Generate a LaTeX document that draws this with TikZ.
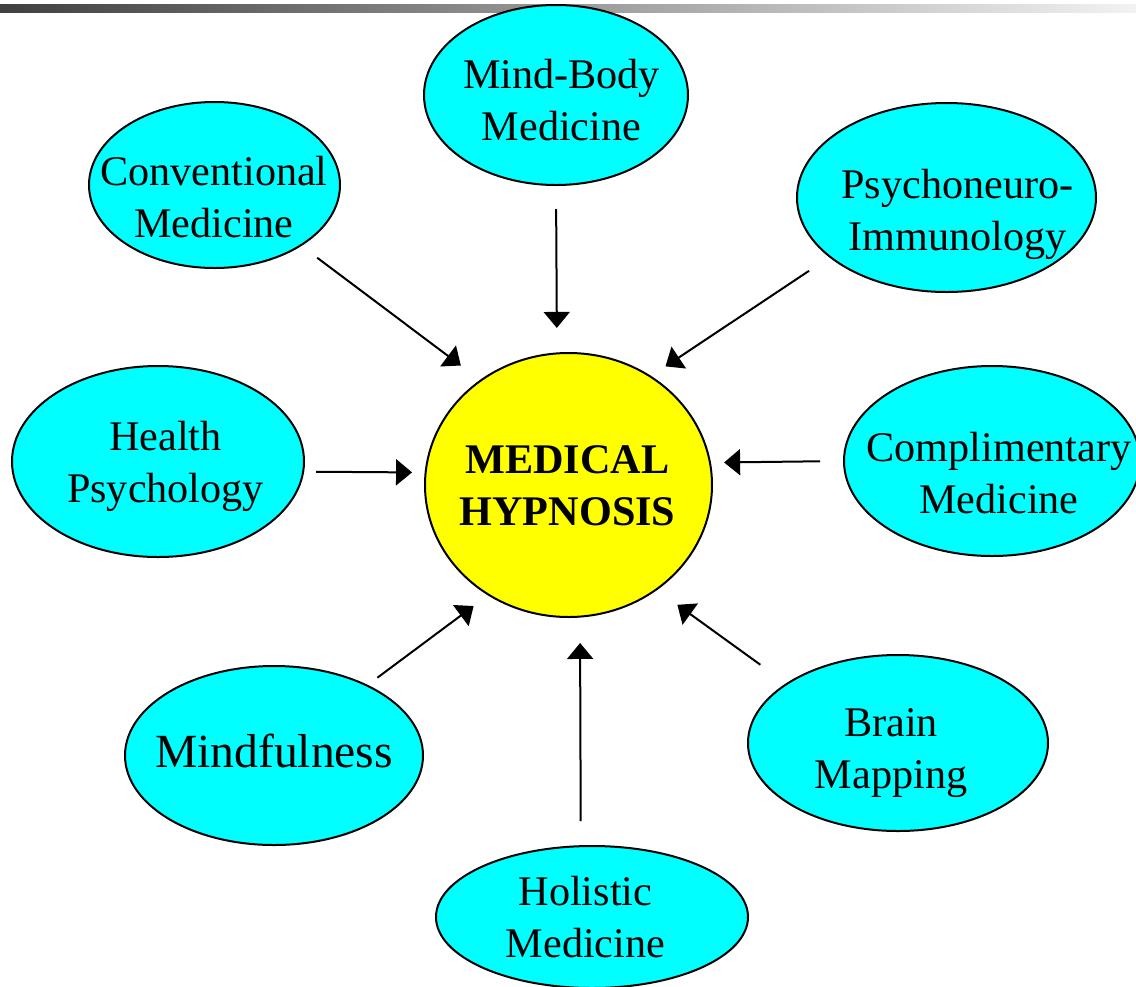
\documentclass[tikz,border=0pt]{standalone}
\usepackage{fontspec}
\setmainfont{Liberation Serif}
\usetikzlibrary{shapes.geometric,arrows.meta}
\definecolor{aqua}{RGB}{0,255,255}
\definecolor{sun}{RGB}{255,255,0}

\begin{document}
\begin{tikzpicture}[x=0.5pt,y=-0.5pt,
    topic/.style={ellipse,draw,line width=1pt,fill=aqua,inner sep=0pt,outer sep=0pt},
    lbl/.style={align=center,anchor=base,inner sep=0pt,font=\fontsize{21.1}{25.8}\selectfont},
    feed/.style={-{Triangle[length=8pt,width=13pt]},line width=1pt}]
  \clip (0,0) rectangle (1136,986);
  \shade[left color=black!75,right color=black!5] (0,4) rectangle (1136,12);

  % ovals
  \node[topic,fill=sun,minimum width=143.5pt,minimum height=132pt] (hyp) at (568.5,485) {};
  \node[topic,minimum width=132pt,minimum height=90pt] (mb) at (556,95) {};
  \node[topic,minimum width=125.5pt,minimum height=83pt] (conv) at (214.5,185) {};
  \node[topic,minimum width=149.5pt,minimum height=94.5pt] (psy) at (946.5,197.5) {};
  \node[topic,minimum width=146pt,minimum height=95.5pt] (hp) at (158,461.5) {};
  \node[topic,minimum width=148pt,minimum height=95pt] (comp) at (992,461) {};
  \node[topic,minimum width=149pt,minimum height=89.5pt] (mind) at (274,755.5) {};
  \node[topic,minimum width=150pt,minimum height=88pt] (brain) at (898,743) {};
  \node[topic,minimum width=156pt,minimum height=71pt] (hol) at (592,917) {};

  % texts (base = last line)
  \node[lbl,font=\fontsize{21.1}{25.8}\selectfont\bfseries] (hyp-t) at (567.5,525) {MEDICAL\\HYPNOSIS};
  \node[lbl] (mb-t) at (561.5,140) {Mind-Body\\Medicine};
  \node[lbl] (conv-t) at (214,237) {Conventional\\Medicine};
  \node[lbl] (psy-t) at (957.5,250) {Psychoneuro-\\Immunology};
  \node[lbl] (hp-t) at (165.5,502) {Health\\Psychology};
  \node[lbl] (comp-t) at (999,513) {Complimentary\\Medicine};
  \node[lbl,font=\fontsize{23.8}{28}\selectfont] (mind-t) at (274,767) {Mindfulness};
  \node[lbl] (brain-t) at (891,788) {Brain\\Mapping};
  \node[lbl] (hol-t) at (585.5,957) {Holistic\\Medicine};

  % arrows into the centre
  \draw[feed,shorten <=10.35pt,shorten >=12.5pt] (conv.-35.1) -- (hyp.130.4);
  \draw[feed,shorten <=12pt,shorten >=12.75pt] (mb.-90) -- (hyp.95.2);
  \draw[feed,shorten <=12.65pt,shorten >=9.15pt] (psy.-153.6) -- (hyp.53.2);
  \draw[feed,shorten <=6.5pt,shorten >=6.8pt] (hp.-4.5) -- (hyp.175.2);
  \draw[feed,shorten <=12pt,shorten >=7.1pt] (comp.180) -- (hyp.9.2);
  \draw[feed,shorten <=6.55pt,shorten >=9.45pt] (mind.37.7) -- (hyp.-126.8);
  \draw[feed,shorten <=12.5pt,shorten >=13.2pt] (hol.99.6) -- (hyp.-85);
  \draw[feed,shorten <=16.35pt,shorten >=13.05pt] (brain.152.2) -- (hyp.-50.2);
\end{tikzpicture}
\end{document}
